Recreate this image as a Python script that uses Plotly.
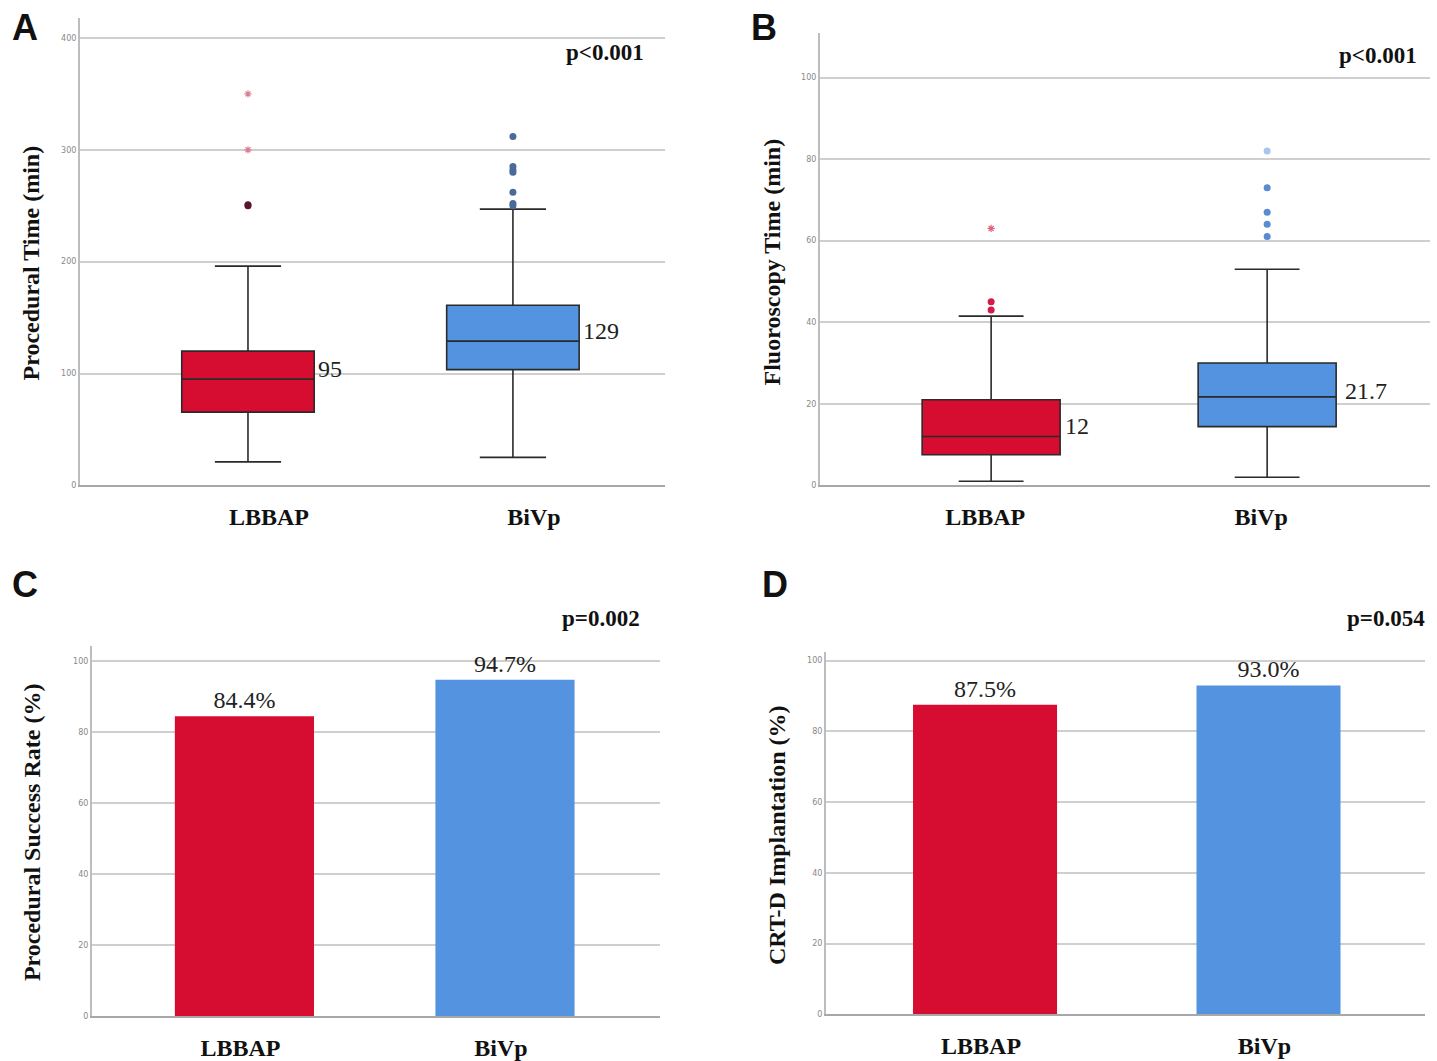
import plotly.graph_objects as go

# ---------------- data ----------------
groups = ["LBBAP", "BiVp"]

# Panel A: procedural time (min)
a_q1 = [65.5, 103.5]
a_median = [95, 129]
a_q3 = [120, 161]
a_low = [21, 25]
a_high = [196, 247]
a_out_lbbap_circle = [250, 251]
a_out_lbbap_star = [300, 350]
a_out_bivp_circle = [312, 285, 282, 280, 262, 252, 250]
a_median_labels = ["95", "129"]

# Panel B: fluoroscopy time (min)
b_q1 = [7.5, 14.4]
b_median = [12, 21.7]
b_q3 = [21, 30]
b_low = [1, 2]
b_high = [41.5, 53]
b_out_lbbap_circle = [45, 43]
b_out_lbbap_star = [63]
b_out_bivp_circle = [73, 67, 64, 61]
b_out_bivp_light = [82]
b_median_labels = ["12", "21.7"]

# Panel C: procedural success rate (%)
c_values = [84.4, 94.7]
c_labels = ["84.4%", "94.7%"]

# Panel D: CRT-D implantation (%)
d_values = [87.5, 93.0]
d_labels = ["87.5%", "93.0%"]

p_values = ["p<0.001", "p<0.001", "p=0.002", "p=0.054"]
panel_letters = ["A", "B", "C", "D"]
y_titles = ["Procedural Time (min)", "Fluoroscopy Time (min)",
            "Procedural Success Rate (%)", "CRT-D Implantation (%)"]

# ---------------- style ----------------
RED = "#D60C30"
BLUE = "#5393E0"
EDGE = "#2a2a2a"
SERIF = "Liberation Serif, Times New Roman, serif"
SANS = "Liberation Sans, Arial, sans-serif"
W, H = 1437, 1061

fig = go.Figure()

colors = [RED, BLUE]

# Panel A boxes
for i, g in enumerate(groups):
    fig.add_trace(go.Box(
        x=[g], q1=[a_q1[i]], median=[a_median[i]], q3=[a_q3[i]],
        lowerfence=[a_low[i]], upperfence=[a_high[i]],
        fillcolor=colors[i], line=dict(color=EDGE, width=1.6),
        width=0.5, whiskerwidth=0.5, boxpoints=False, showlegend=False,
        xaxis="x", yaxis="y", hoverinfo="skip"))
fig.add_trace(go.Scatter(x=["LBBAP"] * len(a_out_lbbap_circle), y=a_out_lbbap_circle,
                         mode="markers", marker=dict(color="#5a1628", size=7),
                         showlegend=False, xaxis="x", yaxis="y"))
fig.add_trace(go.Scatter(x=["LBBAP"] * len(a_out_lbbap_star), y=a_out_lbbap_star,
                         mode="markers", marker=dict(symbol="asterisk-open", color="#d98095", size=6,
                                                     line=dict(width=1.2, color="#d98095")),
                         showlegend=False, xaxis="x", yaxis="y"))
fig.add_trace(go.Scatter(x=["BiVp"] * len(a_out_bivp_circle), y=a_out_bivp_circle,
                         mode="markers", marker=dict(color="#4a6a9a", size=7),
                         showlegend=False, xaxis="x", yaxis="y"))

# Panel B boxes
for i, g in enumerate(groups):
    fig.add_trace(go.Box(
        x=[g], q1=[b_q1[i]], median=[b_median[i]], q3=[b_q3[i]],
        lowerfence=[b_low[i]], upperfence=[b_high[i]],
        fillcolor=colors[i], line=dict(color=EDGE, width=1.6),
        width=0.5, whiskerwidth=0.47, boxpoints=False, showlegend=False,
        xaxis="x2", yaxis="y2", hoverinfo="skip"))
fig.add_trace(go.Scatter(x=["LBBAP"] * len(b_out_lbbap_circle), y=b_out_lbbap_circle,
                         mode="markers", marker=dict(color="#d41a48", size=7),
                         showlegend=False, xaxis="x2", yaxis="y2"))
fig.add_trace(go.Scatter(x=["LBBAP"] * len(b_out_lbbap_star), y=b_out_lbbap_star,
                         mode="markers", marker=dict(symbol="asterisk-open", color="#e0607c", size=6,
                                                     line=dict(width=1.2, color="#e0607c")),
                         showlegend=False, xaxis="x2", yaxis="y2"))
fig.add_trace(go.Scatter(x=["BiVp"] * len(b_out_bivp_circle), y=b_out_bivp_circle,
                         mode="markers", marker=dict(color="#5a8ad0", size=7),
                         showlegend=False, xaxis="x2", yaxis="y2"))
fig.add_trace(go.Scatter(x=["BiVp"] * len(b_out_bivp_light), y=b_out_bivp_light,
                         mode="markers", marker=dict(color="#a9c6ea", size=7),
                         showlegend=False, xaxis="x2", yaxis="y2"))

# Panel C bars
fig.add_trace(go.Bar(x=groups, y=c_values, marker=dict(color=colors, line=dict(width=0)),
                     width=0.534, text=c_labels, textposition="outside",
                     textfont=dict(family=SERIF, size=24, color="#222"),
                     cliponaxis=False, showlegend=False, xaxis="x3", yaxis="y3"))
# Panel D bars
fig.add_trace(go.Bar(x=groups, y=d_values, marker=dict(color=colors, line=dict(width=0)),
                     width=0.508, text=d_labels, textposition="outside",
                     textfont=dict(family=SERIF, size=24, color="#222"),
                     cliponaxis=False, showlegend=False, xaxis="x4", yaxis="y4"))

# ---------------- axes ----------------
def px_x(p):
    return p / W

def px_y(p):
    return 1 - p / H

panels = {
    # name: (x_left, x_right, y_top, y_bottom, xrange, yrange, dtick, label shift)
    "1": (80, 665, 18, 490, [-0.634, 1.574], [0, 418], 100, 21),
    "2": (820, 1430, 33, 490, [-0.62, 1.59], [0, 111], 20, -6),
    "3": (92, 660, 652, 1026, [-0.585, 1.595], [0, 104.2], 20, -4),
    "4": (826, 1425, 658, 1024, [-0.561, 1.552], [0, 102.5], 20, -4),
}

layout_axes = {}
for k, (xl, xr, yt, yb, xrng, yrng, dt, shift) in panels.items():
    xa = "xaxis" if k == "1" else "xaxis" + k
    ya = "yaxis" if k == "1" else "yaxis" + k
    anchor_y = "y" if k == "1" else "y" + k
    anchor_x = "x" if k == "1" else "x" + k
    layout_axes[xa] = dict(
        domain=[px_x(xl), px_x(xr)], anchor=anchor_y, type="category",
        range=xrng, showgrid=False, zeroline=False,
        showline=True, linecolor="#a8a8a8", linewidth=2,
        ticks="outside", ticklen=9, tickcolor="rgba(0,0,0,0)",
        ticklabelshift=shift,
        tickfont=dict(family=SERIF, size=24, color="#111", weight="bold"),
        fixedrange=True)
    layout_axes[ya] = dict(
        domain=[px_y(yb), px_y(yt)], anchor=anchor_x, range=yrng,
        dtick=dt, tick0=0, showgrid=True, gridcolor="#cfcfcf", gridwidth=1.5,
        zeroline=False, showline=True, linecolor="#bdbdbd", linewidth=2,
        ticks="", tickfont=dict(family="DejaVu Sans", size=8, color="#888"),
        fixedrange=True)

# ---------------- annotations ----------------
annotations = []

# median labels
a_shift = [(68, 10), (68, 10)]
b_shift = [(72, 10), (76, 6)]
for i, g in enumerate(groups):
    annotations.append(dict(x=g, y=a_median[i], xref="x", yref="y", text=a_median_labels[i],
                            xanchor="left", yanchor="middle", xshift=a_shift[i][0], yshift=a_shift[i][1],
                            showarrow=False, font=dict(family=SERIF, size=24, color="#222")))
    annotations.append(dict(x=g, y=b_median[i], xref="x2", yref="y2", text=b_median_labels[i],
                            xanchor="left", yanchor="middle", xshift=b_shift[i][0], yshift=b_shift[i][1],
                            showarrow=False, font=dict(family=SERIF, size=24, color="#222")))

# p-values
p_pos = [(646, 53), (1419, 56), (642, 624), (1427, 624)]
for txt, (x, y) in zip(p_values, p_pos):
    annotations.append(dict(x=px_x(x), y=px_y(y), xref="paper", yref="paper", text=txt,
                            xanchor="right", yanchor="middle", showarrow=False,
                            font=dict(family=SERIF, size=23, color="#111", weight="bold")))

# panel letters
letter_pos = [(10, 28), (749, 28), (10, 590), (760, 590)]
for txt, (x, y) in zip(panel_letters, letter_pos):
    annotations.append(dict(x=px_x(x), y=px_y(y), xref="paper", yref="paper", text=txt,
                            xanchor="left", yanchor="middle", showarrow=False,
                            font=dict(family=SANS, size=36, color="#111", weight="bold")))

# y-axis titles
title_pos = [(31, 266), (772, 265), (32, 840), (777, 843)]
for txt, (x, y) in zip(y_titles, title_pos):
    annotations.append(dict(x=px_x(x), y=px_y(y), xref="paper", yref="paper", text=txt,
                            textangle=-90, xanchor="center", yanchor="middle", showarrow=False,
                            font=dict(family=SERIF, size=24, color="#111", weight="bold")))

fig.update_layout(
    width=W, height=H, margin=dict(l=0, r=0, t=0, b=0),
    paper_bgcolor="white", plot_bgcolor="white",
    showlegend=False, annotations=annotations, **layout_axes)

fig.write_html("out.html")
